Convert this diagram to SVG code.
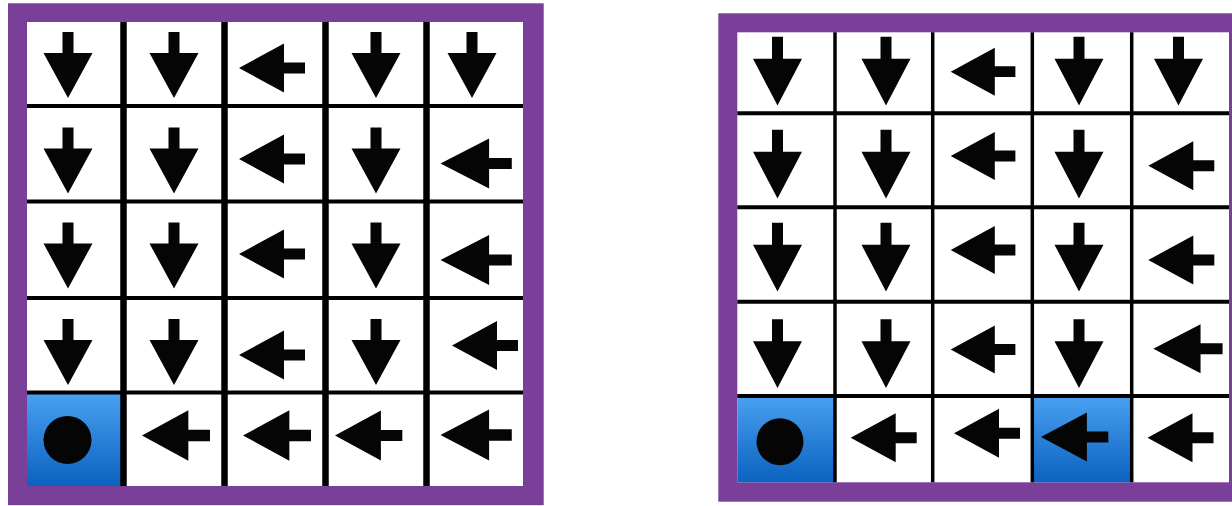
<svg xmlns="http://www.w3.org/2000/svg" xmlns:xlink="http://www.w3.org/1999/xlink" width="1232" height="506" viewBox="0 0 1232 506">
  <style>
    .frame { fill: #7a3f98; }
    .inner { fill: #ffffff; }
    .arrow { fill: #050505; }
    .vl { stroke: #000; stroke-width: 6.5; }
    .hl { stroke: #000; stroke-width: 4; }
    .vl2 { stroke: #000; stroke-width: 3.5; }
    .hl2 { stroke: #000; stroke-width: 4; }
    .goal { fill: url(#blue); }
    .dot { fill: #050505; }
  </style>
  <defs>
    <linearGradient id="blue" x1="0" y1="0" x2="0" y2="1">
      <stop offset="0" stop-color="#4aa0f0"/>
      <stop offset="1" stop-color="#0b62c0"/>
    </linearGradient>
    <path id="la" class="arrow" d="M0,0 L45,-24.5 L45,-5.5 L66,-5.5 L66,5.5 L45,5.5 L45,24.5 Z"/>
  </defs>

  <rect width="1232" height="506" fill="#ffffff"/>

  <!-- Left grid -->
  <g id="grid-left">
    <rect class="frame" x="8" y="3.3" width="535.7" height="501.9"/>
    <rect class="inner" x="27" y="22" width="496" height="464"/>
    <g id="L-r4c0"><rect class="goal" x="27" y="392.5" width="96.5" height="93.5"/><circle class="dot" cx="67.5" cy="440" r="24"/></g>
    <g id="L-lines">
      <line class="vl" x1="123.5" y1="22" x2="123.5" y2="486"/>
      <line class="vl" x1="224.5" y1="22" x2="224.5" y2="486"/>
      <line class="vl" x1="325.5" y1="22" x2="325.5" y2="486"/>
      <line class="vl" x1="426.5" y1="22" x2="426.5" y2="486"/>
      <line class="hl" x1="27" y1="106" x2="523" y2="106"/>
      <line class="hl" x1="27" y1="201.5" x2="523" y2="201.5"/>
      <line class="hl" x1="27" y1="298" x2="523" y2="298"/>
      <line class="hl" x1="27" y1="392.5" x2="523" y2="392.5"/>
    </g>
    <g id="L-r0c0"><use xlink:href="#la" transform="translate(68,98) rotate(-90)"/></g>
    <g id="L-r0c1"><use xlink:href="#la" transform="translate(174,98) rotate(-90)"/></g>
    <g id="L-r0c2"><use xlink:href="#la" transform="translate(239,68)"/></g>
    <g id="L-r0c3"><use xlink:href="#la" transform="translate(376,98) rotate(-90)"/></g>
    <g id="L-r0c4"><use xlink:href="#la" transform="translate(472,98) rotate(-90)"/></g>

    <g id="L-r1c0"><use xlink:href="#la" transform="translate(68,193.5) rotate(-90)"/></g>
    <g id="L-r1c1"><use xlink:href="#la" transform="translate(174,193.5) rotate(-90)"/></g>
    <g id="L-r1c2"><use xlink:href="#la" transform="translate(239,159)"/></g>
    <g id="L-r1c3"><use xlink:href="#la" transform="translate(376,193.5) rotate(-90)"/></g>
    <g id="L-r1c4"><use xlink:href="#la" transform="translate(440.5,163.5) scale(1.08,1.02)"/></g>

    <g id="L-r2c0"><use xlink:href="#la" transform="translate(68,288.5) rotate(-90)"/></g>
    <g id="L-r2c1"><use xlink:href="#la" transform="translate(174,288.5) rotate(-90)"/></g>
    <g id="L-r2c2"><use xlink:href="#la" transform="translate(239,254)"/></g>
    <g id="L-r2c3"><use xlink:href="#la" transform="translate(376,288.5) rotate(-90)"/></g>
    <g id="L-r2c4"><use xlink:href="#la" transform="translate(440.5,260) scale(1.08,1.02)"/></g>

    <g id="L-r3c0"><use xlink:href="#la" transform="translate(68,385) rotate(-90)"/></g>
    <g id="L-r3c1"><use xlink:href="#la" transform="translate(174,385) rotate(-90)"/></g>
    <g id="L-r3c2"><use xlink:href="#la" transform="translate(239,355)"/></g>
    <g id="L-r3c3"><use xlink:href="#la" transform="translate(376,385) rotate(-90)"/></g>
    <g id="L-r3c4"><use xlink:href="#la" transform="translate(452,345.5)"/></g>

    <g id="L-r4c1"><use xlink:href="#la" transform="translate(142,435.5) scale(1.03)"/></g>
    <g id="L-r4c2"><use xlink:href="#la" transform="translate(243,435.5) scale(1.03)"/></g>
    <g id="L-r4c3"><use xlink:href="#la" transform="translate(335,435.5) scale(1.02)"/></g>
    <g id="L-r4c4"><use xlink:href="#la" transform="translate(440.5,435) scale(1.08,1.04)"/></g>
  </g>

  <!-- Right grid -->
  <g id="grid-right">
    <rect class="frame" x="718.3" y="13.3" width="540" height="488.4"/>
    <rect class="inner" x="737.3" y="32.3" width="491.7" height="450"/>
    <g id="R-r4c0"><rect class="goal" x="737.3" y="396" width="97.7" height="86.3"/><circle class="dot" cx="780" cy="441.7" r="23.5"/></g>
    <rect id="R-r4c3-bg" class="goal" x="1032.3" y="396" width="99.4" height="86.3"/>
    <g id="R-lines">
      <line class="vl2" x1="835" y1="32.3" x2="835" y2="482.3"/>
      <line class="vl2" x1="932.7" y1="32.3" x2="932.7" y2="482.3"/>
      <line class="vl2" x1="1032.3" y1="32.3" x2="1032.3" y2="482.3"/>
      <line class="vl2" x1="1131.7" y1="32.3" x2="1131.7" y2="482.3"/>
      <line class="hl2" x1="737.3" y1="113.3" x2="1229" y2="113.3"/>
      <line class="hl2" x1="737.3" y1="207.3" x2="1229" y2="207.3"/>
      <line class="hl2" x1="737.3" y1="301.7" x2="1229" y2="301.7"/>
      <line class="hl2" x1="737.3" y1="396" x2="1229" y2="396"/>
    </g>
    <g id="R-r0c0"><use xlink:href="#la" transform="translate(777.5,105.5) rotate(-90) scale(1.04,1)"/></g>
    <g id="R-r0c1"><use xlink:href="#la" transform="translate(886,105.5) rotate(-90) scale(1.04,1)"/></g>
    <g id="R-r0c2"><use xlink:href="#la" transform="translate(950.7,71.7) scale(0.98)"/></g>
    <g id="R-r0c3"><use xlink:href="#la" transform="translate(1079,105.5) rotate(-90) scale(1.04,1)"/></g>
    <g id="R-r0c4"><use xlink:href="#la" transform="translate(1178.5,105.5) rotate(-90) scale(1.04,1)"/></g>

    <g id="R-r1c0"><use xlink:href="#la" transform="translate(777.5,198.5) rotate(-90) scale(1.04,1)"/></g>
    <g id="R-r1c1"><use xlink:href="#la" transform="translate(886,198.5) rotate(-90) scale(1.04,1)"/></g>
    <g id="R-r1c2"><use xlink:href="#la" transform="translate(950.7,156) scale(0.98)"/></g>
    <g id="R-r1c3"><use xlink:href="#la" transform="translate(1079,198.5) rotate(-90) scale(1.04,1)"/></g>
    <g id="R-r1c4"><use xlink:href="#la" transform="translate(1148.3,165.8)"/></g>

    <g id="R-r2c0"><use xlink:href="#la" transform="translate(777.5,291.5) rotate(-90) scale(1.04,1)"/></g>
    <g id="R-r2c1"><use xlink:href="#la" transform="translate(886,291.5) rotate(-90) scale(1.04,1)"/></g>
    <g id="R-r2c2"><use xlink:href="#la" transform="translate(950.7,250) scale(0.98)"/></g>
    <g id="R-r2c3"><use xlink:href="#la" transform="translate(1079,291.5) rotate(-90) scale(1.04,1)"/></g>
    <g id="R-r2c4"><use xlink:href="#la" transform="translate(1148.3,260)"/></g>

    <g id="R-r3c0"><use xlink:href="#la" transform="translate(777.5,388) rotate(-90) scale(1.04,1)"/></g>
    <g id="R-r3c1"><use xlink:href="#la" transform="translate(886,388) rotate(-90) scale(1.04,1)"/></g>
    <g id="R-r3c2"><use xlink:href="#la" transform="translate(950.7,349.5) scale(0.98)"/></g>
    <g id="R-r3c3"><use xlink:href="#la" transform="translate(1079,388) rotate(-90) scale(1.04,1)"/></g>
    <g id="R-r3c4"><use xlink:href="#la" transform="translate(1153.3,348.7) scale(1.05,1)"/></g>

    <g id="R-r4c1"><use xlink:href="#la" transform="translate(850.7,437.8)"/></g>
    <g id="R-r4c2"><use xlink:href="#la" transform="translate(954,433.2)"/></g>
    <g id="R-r4c3"><use xlink:href="#la" transform="translate(1041,437) scale(1.02,1)"/></g>
    <g id="R-r4c4"><use xlink:href="#la" transform="translate(1147.5,437.8)"/></g>
  </g>
</svg>
